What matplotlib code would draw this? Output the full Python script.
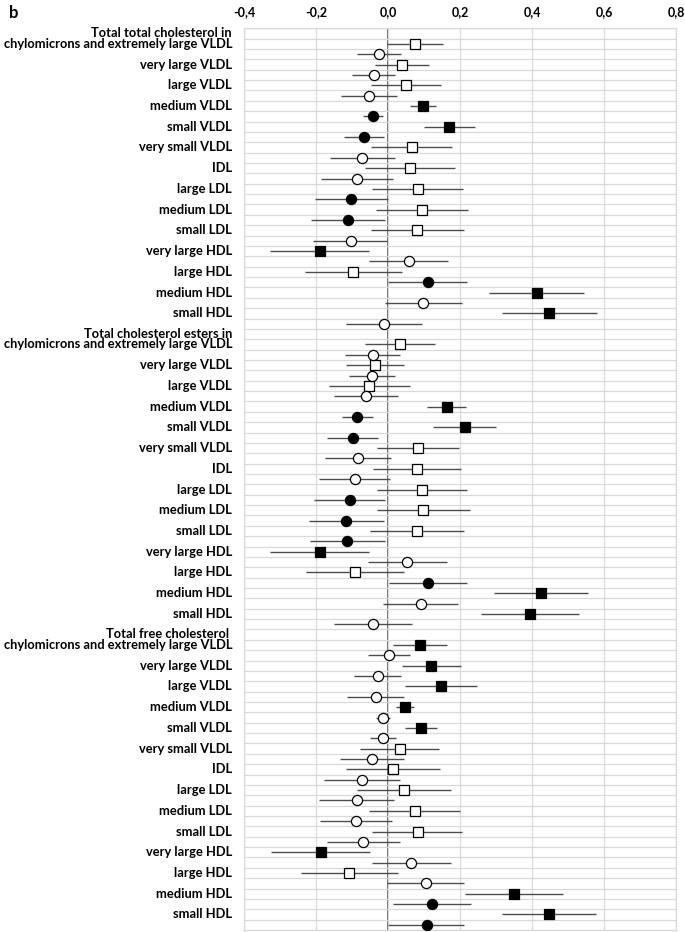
import matplotlib
matplotlib.use("Agg")
import matplotlib.pyplot as plt
import numpy as np

FONT = ["Lato", "DejaVu Sans"]
C_GRID = "#d9d9d9"; C_ZERO = "#595959"; C_BAR = "#4d4d4d"

group_titles = ["Total total cholesterol in", "Total cholesterol esters in", "Total free cholesterol "]
categories = ["chylomicrons and extremely large VLDL", "very large VLDL", "large VLDL", "medium VLDL",
              "small VLDL", "very small VLDL", "IDL", "large LDL", "medium LDL", "small LDL",
              "very large HDL", "large HDL", "medium HDL", "small HDL"]

# squares (first estimate per category), 3 groups x 14
sq_est = [0.075, 0.038, 0.049, 0.098, 0.170, 0.066, 0.061, 0.082, 0.094, 0.081, -0.189, -0.096, 0.413, 0.448,
          0.032, -0.037, -0.052, 0.163, 0.213, 0.083, 0.081, 0.094, 0.098, 0.081, -0.190, -0.093, 0.425, 0.394,
          0.089, 0.120, 0.147, 0.048, 0.091, 0.032, 0.013, 0.044, 0.075, 0.082, -0.187, -0.107, 0.350, 0.447]
sq_lo = [-0.004, -0.037, -0.048, 0.062, 0.101, -0.046, -0.063, -0.044, -0.033, -0.047, -0.327, -0.231, 0.281, 0.318,
         -0.065, -0.117, -0.165, 0.109, 0.125, -0.031, -0.042, -0.031, -0.031, -0.050, -0.327, -0.228, 0.295, 0.259,
         0.014, 0.039, 0.048, 0.023, 0.048, -0.078, -0.118, -0.086, -0.052, -0.044, -0.324, -0.242, 0.215, 0.318]
sq_hi = [0.154, 0.113, 0.146, 0.132, 0.241, 0.178, 0.187, 0.207, 0.223, 0.211, -0.053, 0.038, 0.545, 0.581,
         0.130, 0.044, 0.061, 0.217, 0.301, 0.198, 0.202, 0.219, 0.227, 0.212, -0.054, 0.044, 0.556, 0.530,
         0.165, 0.202, 0.246, 0.073, 0.135, 0.142, 0.144, 0.175, 0.200, 0.206, -0.050, 0.027, 0.485, 0.577]
sq_sig = [0, 0, 0, 1, 1, 0, 0, 0, 0, 0, 1, 0, 1, 1,
          0, 0, 0, 1, 1, 0, 0, 0, 0, 0, 1, 0, 1, 1,
          1, 1, 1, 1, 1, 0, 0, 0, 0, 0, 1, 0, 1, 1]

# circles (second estimate per category)
ci_est = [-0.025, -0.040, -0.052, -0.041, -0.068, -0.071, -0.087, -0.102, -0.111, -0.104, 0.057, 0.110, 0.098, -0.011,
          -0.043, -0.044, -0.062, -0.085, -0.098, -0.084, -0.093, -0.106, -0.116, -0.113, 0.054, 0.112, 0.091, -0.043,
          0.004, -0.028, -0.034, -0.014, -0.014, -0.044, -0.072, -0.087, -0.090, -0.069, 0.064, 0.105, 0.121, 0.107]
ci_lo = [-0.086, -0.099, -0.130, -0.069, -0.123, -0.161, -0.187, -0.202, -0.213, -0.207, -0.053, 0.000, -0.007, -0.117,
         -0.119, -0.107, -0.150, -0.128, -0.169, -0.176, -0.191, -0.206, -0.219, -0.217, -0.056, 0.003, -0.013, -0.150,
         -0.056, -0.094, -0.113, -0.034, -0.049, -0.132, -0.177, -0.192, -0.190, -0.169, -0.044, -0.003, 0.014, 0.000]
ci_hi = [0.036, 0.019, 0.024, -0.013, -0.012, 0.019, 0.013, 0.000, -0.009, -0.002, 0.166, 0.219, 0.205, 0.095,
         0.033, 0.019, 0.027, -0.042, -0.029, 0.007, 0.005, -0.007, -0.012, -0.007, 0.164, 0.219, 0.195, 0.066,
         0.062, 0.037, 0.044, 0.006, 0.021, 0.044, 0.033, 0.018, 0.011, 0.033, 0.174, 0.212, 0.230, 0.212]
ci_sig = [0, 0, 0, 1, 1, 0, 0, 1, 1, 0, 0, 1, 0, 0,
          0, 0, 0, 1, 1, 0, 0, 1, 1, 1, 0, 1, 0, 0,
          0, 0, 0, 0, 0, 0, 0, 0, 0, 0, 0, 0, 1, 1]

x_ticks = [-0.4, -0.2, 0.0, 0.2, 0.4, 0.6, 0.8]

n_cat = len(categories)
rows_per_group = 2 * n_cat + 1
n_rows = len(group_titles) * rows_per_group

fig = plt.figure(figsize=(6.85, 9.32), dpi=100)
ax = fig.add_axes([244/685, 2/932, 432/685, 901.7/932])
ax.set_xlim(-0.4, 0.8)
ax.set_ylim(n_rows, 0)

# grid
ax.set_xticks(x_ticks)
ax.set_yticks(np.arange(n_rows + 1))
ax.set_yticklabels([])
ax.grid(True, color=C_GRID, lw=0.9, zorder=0)
ax.tick_params(axis="both", length=0)
ax.xaxis.tick_top()
ax.set_xticklabels([f"{t:.1f}".replace(".", ",") for t in x_ticks],
                   fontfamily=FONT, fontweight="bold", fontsize=9)
ax.tick_params(axis="x", pad=7)
for s in ax.spines.values():
    s.set_color(C_GRID); s.set_linewidth(0.9)
ax.axvline(0, color=C_ZERO, lw=1.3, zorder=1)

gi = np.repeat(np.arange(len(group_titles)), n_cat)
ki = np.tile(np.arange(n_cat), len(group_titles))
y_sq = gi * rows_per_group + 1 + 2 * ki + 0.5
y_ci = y_sq + 1

def draw(est, lo, hi, sig, y, marker):
    est = np.array(est); lo = np.array(lo); hi = np.array(hi); sig = np.array(sig, bool)
    ax.hlines(y, lo, hi, color=C_BAR, lw=1.0, zorder=2)
    for mask, fc in ((sig, "black"), (~sig, "white")):
        ax.plot(est[mask], y[mask], ls="none", marker=marker, ms=7.3, mfc=fc, mec="black",
                mew=0.9, zorder=3)

draw(sq_est, sq_lo, sq_hi, sq_sig, y_sq, "s")
draw(ci_est, ci_lo, ci_hi, ci_sig, y_ci, "o")

# category labels
trans = ax.get_yaxis_transform()
lx = -12/432
for g, title in enumerate(group_titles):
    base = g * rows_per_group
    ax.text(lx, base + 0.45, title, transform=trans, ha="right", va="center",
            fontfamily=FONT, fontweight="bold", fontsize=9.3, clip_on=False)
    for k, cat in enumerate(categories):
        ax.text(lx, base + 1 + 2 * k + 0.5, cat, transform=trans, ha="right", va="center",
                fontfamily=FONT, fontweight="bold", fontsize=9.3, clip_on=False)

fig.text(9/685, 1 - 13/932, "b", ha="left", va="center", fontfamily=FONT,
         fontweight="bold", fontsize=12)

fig.savefig("out.png", dpi=100)
